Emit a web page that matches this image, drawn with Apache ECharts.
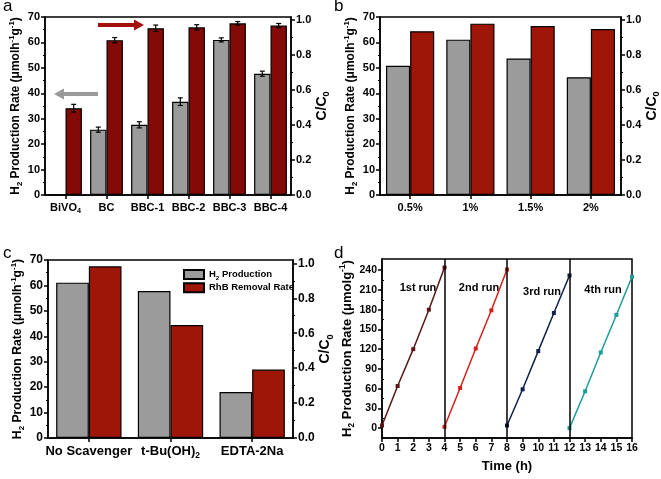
<!DOCTYPE html>
<html><head><meta charset="utf-8">
<script src="https://cdn.jsdelivr.net/npm/echarts@6/dist/echarts.min.js"></script>
<style>html,body{margin:0;padding:0;background:#fff}#c{width:661px;height:479px}</style>
</head><body><div id="c"></div>
<script>
// ---------- Panel a ----------
const catsA = ['BiVO4', 'BC', 'BBC-1', 'BBC-2', 'BBC-3', 'BBC-4'];
const h2A = [0, 25.7, 27.6, 36.7, 61.0, 47.7];
const h2ErrA = [0, 1.0, 1.2, 1.5, 0.8, 1.0];
const ccA = [0.495, 0.883, 0.951, 0.956, 0.979, 0.966];
const ccErrA = [0.022, 0.015, 0.018, 0.015, 0.010, 0.012];
// ---------- Panel b ----------
const catsB = ['0.5%', '1%', '1.5%', '2%'];
const h2B = [50.8, 61.1, 53.7, 46.3];
const ccB = [0.934, 0.977, 0.963, 0.947];
// ---------- Panel c ----------
const catsC = ['No Scavenger', 't-Bu(OH)2', 'EDTA-2Na'];
const h2C = [61.1, 57.8, 18.1];
const ccC = [0.983, 0.647, 0.392];
// ---------- Panel d ----------
const timeRun1 = [0, 1, 2, 3, 4];
const valRun1 = [4, 64, 120, 180, 244];
const timeRun2 = [4, 5, 6, 7, 8];
const valRun2 = [2, 61, 121, 179, 241];
const timeRun3 = [8, 9, 10, 11, 12];
const valRun3 = [4, 59, 117, 175, 232];
const timeRun4 = [12, 13, 14, 15, 16];
const valRun4 = [0, 56, 115, 172, 230];
const runBreaks = [4, 8, 12];
const rightTicks = [0, 0.2, 0.4, 0.6, 0.8, 1.0];
const dTicks = [0, 30, 60, 90, 120, 150, 180, 210, 240];
const dMinorTicks = [15, 45, 75, 105, 135, 165, 195, 225];

const FONT = '"Liberation Sans", Arial, sans-serif';
const GRAY = '#9b9b9b';
const REDA = '#840a08';
const REDB = '#9e1608';

function rich(fs) {
  return {
    n: {fontFamily: FONT, fontWeight: 'bold', fontSize: fs, color: '#000', lineHeight: fs + 4},
    s: {fontFamily: FONT, fontWeight: 'bold', fontSize: fs * 0.65, color: '#000', verticalAlign: 'bottom', lineHeight: fs * 0.7},
    p: {fontFamily: FONT, fontWeight: 'bold', fontSize: fs * 0.65, color: '#000', verticalAlign: 'top', lineHeight: fs * 0.7}
  };
}
const H2TITLE = '{n|H}{s|2}{n| Production Rate (μmolh}{p|-1}{n|g}{p|-1}{n|)}';
const CCTITLE = '{n|C/C}{s|0}';
function catFmt(v) {
  if (v === 'BiVO4') return '{n|BiVO}{s|4}';
  if (v === 't-Bu(OH)2') return '{n|t-Bu(OH)}{s|2}';
  return '{n|' + v + '}';
}
const axLine = {show: true, lineStyle: {color: '#000', width: 1.5}};

function xCat(gi, data, fs) {
  return {type: 'category', gridIndex: gi, data: data,
    axisLine: axLine,
    axisTick: {show: true, alignWithLabel: true, length: 4, lineStyle: {color: '#000', width: 1.5}},
    axisLabel: {formatter: catFmt, rich: rich(fs), margin: 5, interval: 0},
    splitLine: {show: false}};
}
function yLeft(gi, fs, tfs, gap) {
  return {type: 'value', gridIndex: gi, position: 'left', min: 0, max: 70, interval: 10,
    axisLine: axLine,
    axisTick: {show: true, length: 4, lineStyle: {color: '#000', width: 1.5}},
    minorTick: {show: true, splitNumber: 2, length: 2, lineStyle: {color: '#000', width: 1.2}},
    axisLabel: {color: '#000', fontFamily: FONT, fontWeight: 'bold', fontSize: fs, margin: 5},
    splitLine: {show: false}, minorSplitLine: {show: false},
    name: H2TITLE, nameLocation: 'middle', nameRotate: 90, nameGap: gap,
    nameTextStyle: {rich: rich(tfs)}};
}
function yRight(gi, max, fs, tfs, gap) {
  return {type: 'value', gridIndex: gi, position: 'right', min: 0, max: max, interval: 0.2,
    axisLine: axLine,
    axisTick: {show: true, length: 4, customValues: rightTicks, lineStyle: {color: '#000', width: 1.5}},
    minorTick: {show: true, splitNumber: 2, length: 2, lineStyle: {color: '#000', width: 1.2}},
    axisLabel: {color: '#000', fontFamily: FONT, fontWeight: 'bold', fontSize: fs, margin: 5,
      customValues: rightTicks, formatter: v => v.toFixed(1)},
    splitLine: {show: false}, minorSplitLine: {show: false},
    name: CCTITLE, nameLocation: 'middle', nameRotate: 90, nameGap: gap,
    nameTextStyle: {rich: rich(tfs)}};
}
function bar(name, xi, yi, data, color, bw) {
  return {type: 'bar', name: name, xAxisIndex: xi, yAxisIndex: yi, data: data,
    barGap: '0%', barCategoryGap: '20%',
    itemStyle: {color: color, borderColor: '#000', borderWidth: bw}, silent: true};
}
function errSeries(xi, yi, vals, errs, side) {
  return {type: 'custom', xAxisIndex: xi, yAxisIndex: yi, z: 10, silent: true,
    data: vals.map((v, i) => [i, v, errs[i]]).filter(d => d[2] > 0),
    renderItem: function (params, api) {
      const i = api.value(0), v = api.value(1), e = api.value(2);
      const band = api.size([1, 0])[0];
      const off = side * band * 0.2;
      const t = api.coord([i, v + e]);
      const b = api.coord([i, v - e]);
      const x = t[0] + off, cw = 2.5;
      const st = {stroke: '#000', lineWidth: 1.2};
      return {type: 'group', children: [
        {type: 'line', shape: {x1: x, y1: t[1], x2: x, y2: b[1]}, style: st},
        {type: 'line', shape: {x1: x - cw, y1: t[1], x2: x + cw, y2: t[1]}, style: st},
        {type: 'line', shape: {x1: x - cw, y1: b[1], x2: x + cw, y2: b[1]}, style: st}
      ]};
    }};
}
function run(name, xs, ys, color) {
  return {type: 'line', name: name, xAxisIndex: 3, yAxisIndex: 6,
    data: xs.map((x, i) => [x, ys[i]]),
    symbol: 'rect', symbolSize: 4, showSymbol: true,
    lineStyle: {color: color, width: 1.5}, itemStyle: {color: color}, silent: true};
}

const grids = [
  {left: 45, top: 17, width: 246, height: 178},
  {left: 380, top: 17, width: 241, height: 178},
  {left: 48, top: 260, width: 245, height: 178},
  {left: 382, top: 259, width: 250, height: 179}
].map(g => Object.assign(g, {show: true, borderColor: '#000', borderWidth: 1.5, backgroundColor: 'transparent', containLabel: false, outerBoundsMode: 'none'}));

const option = {
  animation: false,
  backgroundColor: '#fff',
  textStyle: {fontFamily: FONT},
  grid: grids,
  xAxis: [
    xCat(0, catsA, 11),
    xCat(1, catsB, 11),
    xCat(2, catsC, 13),
    {type: 'value', gridIndex: 3, min: 0, max: 16, interval: 1,
      axisLine: Object.assign({}, axLine, {onZero: false}),
      axisTick: {show: true, length: 4, lineStyle: {color: '#000', width: 1.5}},
      axisLabel: {color: '#000', fontFamily: FONT, fontWeight: 'bold', fontSize: 10.5, margin: 5},
      splitLine: {show: false},
      name: 'Time (h)', nameLocation: 'middle', nameGap: 22,
      nameTextStyle: {color: '#000', fontFamily: FONT, fontWeight: 'bold', fontSize: 13}}
  ],
  yAxis: [
    yLeft(0, 11, 12, 21),
    yRight(0, 1.015, 11, 14, 18),
    yLeft(1, 11, 12, 21),
    yRight(1, 1.015, 11, 14, 18),
    yLeft(2, 12, 12.2, 21),
    yRight(2, 1.019, 12, 14, 18),
    {type: 'value', gridIndex: 3, min: -15, max: 257,
      axisLine: Object.assign({}, axLine, {onZero: false}),
      axisTick: {show: true, length: 4, customValues: dTicks, lineStyle: {color: '#000', width: 1.5}},
      axisLabel: {color: '#000', fontFamily: FONT, fontWeight: 'bold', fontSize: 10.5, margin: 5, customValues: dTicks},
      splitLine: {show: false},
      name: '{n|H}{s|2}{n| Production Rate (μmolg}{p|-1}{n|)}', nameLocation: 'middle', nameRotate: 90, nameGap: 24,
      nameTextStyle: {rich: rich(13)}},
    {type: 'value', gridIndex: 3, min: -15, max: 257,
      axisLine: {show: false},
      axisTick: {show: true, length: 2, customValues: dMinorTicks, lineStyle: {color: '#000', width: 1.2}},
      axisLabel: {show: false}, splitLine: {show: false}}
  ],
  legend: {
    data: ['H2 Production', 'RhB Removal Rate'],
    orient: 'vertical', left: 178, top: 264, itemWidth: 20, itemHeight: 9, itemGap: 1,
    icon: 'rect',
    formatter: n => n === 'H2 Production' ? '{n|H}{s|2}{n| Production}' : '{n|RhB Removal Rate}',
    textStyle: {rich: rich(9.5)}
  },
  series: [
    bar('a-h2', 0, 0, h2A, GRAY, 1.2),
    bar('a-cc', 0, 1, ccA, REDA, 1.2),
    errSeries(0, 0, h2A, h2ErrA, -1),
    errSeries(0, 1, ccA, ccErrA, 1),
    bar('b-h2', 1, 2, h2B, GRAY, 1.2),
    bar('b-cc', 1, 3, ccB, REDB, 1.2),
    bar('H2 Production', 2, 4, h2C, GRAY, 1.2),
    bar('RhB Removal Rate', 2, 5, ccC, REDB, 1.2),
    run('1st', timeRun1, valRun1, '#5a1616'),
    run('2nd', timeRun2, valRun2, '#d6211b'),
    run('3rd', timeRun3, valRun3, '#10204a'),
    Object.assign(run('4th', timeRun4, valRun4, '#1c9d98'), {
      markLine: {silent: true, symbol: 'none', label: {show: false},
        lineStyle: {color: '#000', width: 1.5, type: 'solid'},
        data: runBreaks.map(x => ({xAxis: x}))}})
  ],
  graphic: [
    {type: 'text', left: 3, top: -2, style: {text: 'a', font: '17px ' + FONT, fill: '#000'}},
    {type: 'text', left: 334, top: -2, style: {text: 'b', font: '17px ' + FONT, fill: '#000'}},
    {type: 'text', left: 3, top: 245, style: {text: 'c', font: '17px ' + FONT, fill: '#000'}},
    {type: 'text', left: 334, top: 245, style: {text: 'd', font: '17px ' + FONT, fill: '#000'}},
    {type: 'text', x: 418, y: 288, style: {text: '1st run', font: 'bold 11px ' + FONT, fill: '#000', align: 'center', verticalAlign: 'middle'}},
    {type: 'text', x: 479, y: 288, style: {text: '2nd run', font: 'bold 11px ' + FONT, fill: '#000', align: 'center', verticalAlign: 'middle'}},
    {type: 'text', x: 542, y: 292, style: {text: '3rd run', font: 'bold 11px ' + FONT, fill: '#000', align: 'center', verticalAlign: 'middle'}},
    {type: 'text', x: 603, y: 290, style: {text: '4th run', font: 'bold 11px ' + FONT, fill: '#000', align: 'center', verticalAlign: 'middle'}},
    // arrows in panel a
    {type: 'line', shape: {x1: 98, y1: 94, x2: 62, y2: 94}, style: {stroke: '#9a9a9a', lineWidth: 4}},
    {type: 'polygon', shape: {points: [[54, 94], [64, 88.5], [64, 99.5]]}, style: {fill: '#9a9a9a'}},
    {type: 'line', shape: {x1: 98, y1: 25, x2: 136, y2: 25}, style: {stroke: '#a3100e', lineWidth: 4}},
    {type: 'polygon', shape: {points: [[144, 25], [134, 19.5], [134, 30.5]]}, style: {fill: '#a3100e'}}
  ]
};
const chart = echarts.init(document.getElementById('c'), null, {renderer: 'canvas'});
chart.setOption(option);
</script></body></html>
